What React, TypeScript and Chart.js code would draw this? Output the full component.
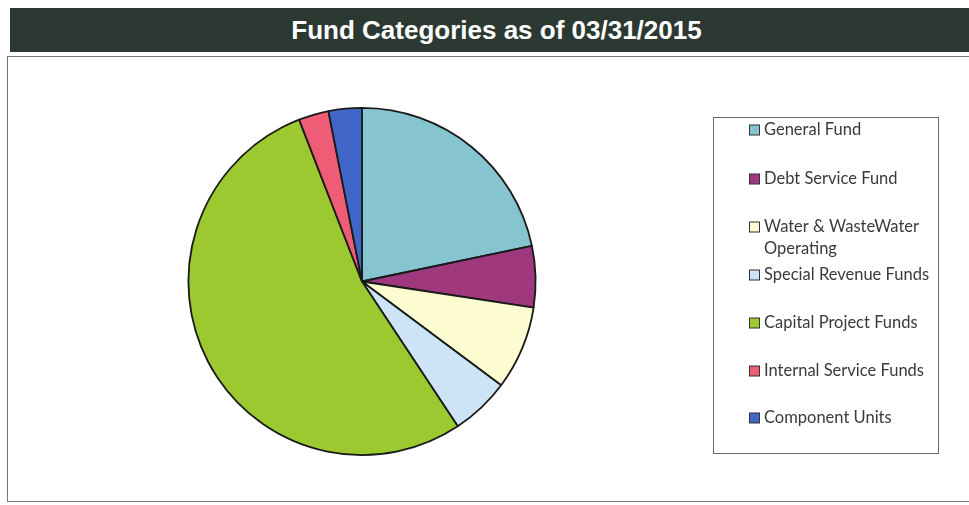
import React, { useEffect, useRef } from "react";
import { Chart, registerables } from "chart.js";

Chart.register(...registerables);

const titleText = "Fund Categories as of 03/31/2015";
const categories = [
  "General Fund",
  "Debt Service Fund",
  "Water & WasteWater Operating",
  "Special Revenue Funds",
  "Capital Project Funds",
  "Internal Service Funds",
  "Component Units",
];
const legendLines = [
  ["General Fund"],
  ["Debt Service Fund"],
  ["Water & WasteWater", "Operating"],
  ["Special Revenue Funds"],
  ["Capital Project Funds"],
  ["Internal Service Funds"],
  ["Component Units"],
];
const shares = [21.7, 5.7, 7.8, 5.5, 53.4, 2.8, 3.1];
const colors = ["#86c4cf", "#a0387e", "#fdfcd0", "#cde3f6", "#9bc92f", "#ee5c76", "#4066c8"];

const legendPlugin = {
  id: "boxLegend",
  afterDraw(chart: any) {
    const ctx = chart.ctx;
    const bx = 713.5, by = 60.5, bw = 225, bh = 336;
    ctx.save();
    ctx.strokeStyle = "#6b6b6b";
    ctx.lineWidth = 1;
    ctx.strokeRect(bx, by, bw, bh);
    ctx.font = "16.5px Lato, 'Noto Sans', sans-serif";
    ctx.textBaseline = "middle";
    const rowY = [73, 122, 170, 218, 266, 314, 361];
    legendLines.forEach((lines, i) => {
      const y = rowY[i];
      ctx.fillStyle = colors[i];
      ctx.fillRect(749.5, y - 5, 10, 10);
      ctx.strokeStyle = "#333";
      ctx.lineWidth = 1;
      ctx.strokeRect(749.5, y - 5, 10, 10);
      ctx.fillStyle = "#3a3a3a";
      lines.forEach((t, j) => {
        ctx.fillText(t, 764, y + j * 22);
      });
    });
    ctx.restore();
  },
};

export default function App() {
  const ref = useRef<HTMLCanvasElement | null>(null);
  useEffect(() => {
    document.body.style.margin = "0";
    const chart = new Chart(ref.current!, {
      type: "pie",
      data: {
        labels: categories,
        datasets: [
          {
            data: shares,
            backgroundColor: colors,
            borderColor: "#1a1a1a",
            borderWidth: 1.8,
          },
        ],
      },
      options: {
        animation: false,
        responsive: false,
        layout: { padding: { left: 187, right: 432, top: 50, bottom: 46 } },
        plugins: { legend: { display: false }, tooltip: { enabled: false } },
      },
      plugins: [legendPlugin],
    });
    return () => chart.destroy();
  }, []);
  return (
    <div style={{ position: "relative", width: 969, height: 505, background: "#fff", overflow: "hidden" }}>
      <div
        style={{
          position: "absolute",
          left: 10,
          top: 8,
          width: 965,
          height: 44,
          background: "#2c3932",
          color: "#fff",
          fontFamily: "'Liberation Sans', Arial, sans-serif",
          fontWeight: "bold",
          fontSize: 26,
          lineHeight: "44px",
          textAlign: "center",
          boxSizing: "border-box",
          paddingLeft: 8,
        }}
      >
        {titleText}
      </div>
      <div
        style={{
          position: "absolute",
          left: 7,
          top: 56,
          width: 975,
          height: 446,
          border: "1px solid #777",
          boxSizing: "border-box",
        }}
      />
      <canvas ref={ref} width={969} height={445} style={{ position: "absolute", left: 0, top: 57 }} />
    </div>
  );
}
